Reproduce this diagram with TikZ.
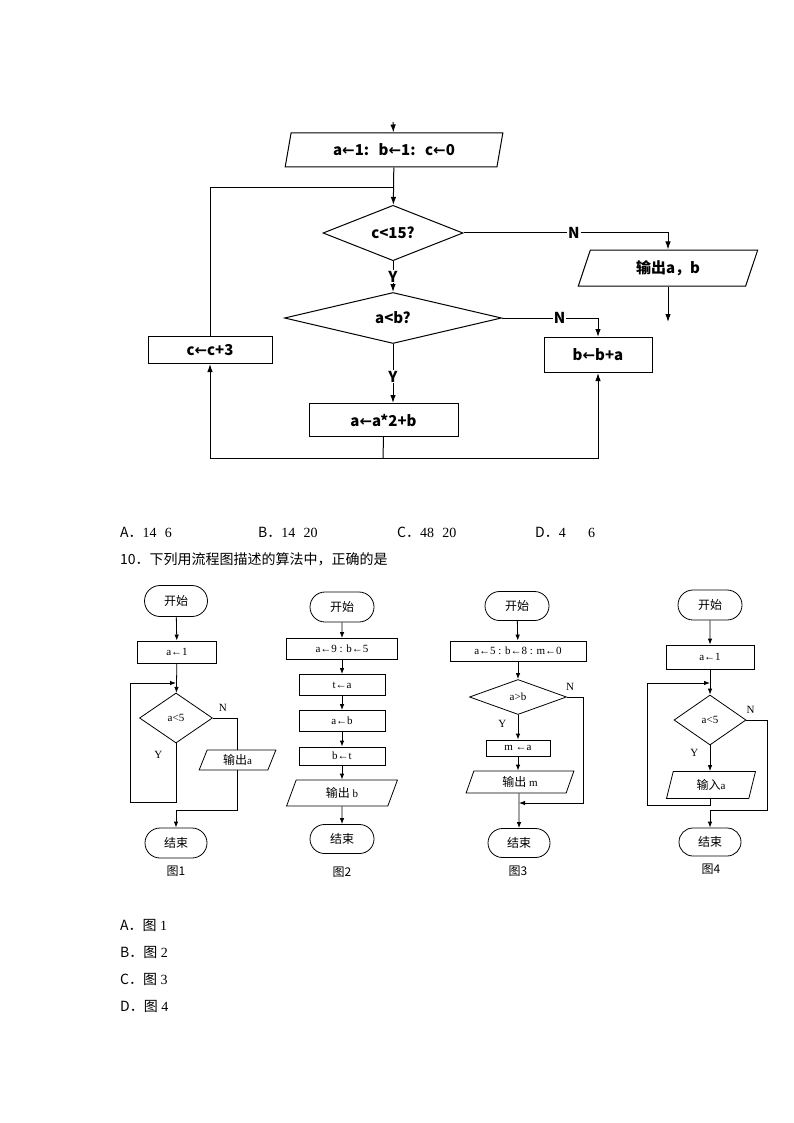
\documentclass[tikz,border=0pt]{standalone}
\usepackage{fontspec}
\setmainfont{Liberation Serif}
\newfontfamily\cjk{Noto Sans CJK SC}
\newfontfamily\symfont{DejaVu Sans}
\usepackage{tikz}
\usetikzlibrary{arrows.meta}
\usetikzlibrary{shapes.geometric,shapes.misc}
\usetikzlibrary{positioning}

\newcommand{\tla}{{\symfont\bfseries ←}}
\newcommand{\sla}{←}
\newcommand{\zh}{\cjk\fontsize{12}{14}\selectfont}

\tikzset{
  bigchart/.style={line width=1pt,>={Latex[length=8pt,width=5.5pt]},font=\cjk\bfseries\fontsize{15}{17}\selectfont},
  smallchart/.style={line width=0.8pt,>={Latex[length=6pt,width=4.5pt]},font=\fontsize{11}{13}\selectfont},
  proc/.style={draw,rectangle,inner sep=0pt},
  io/.style={draw,trapezium,trapezium stretches=true,inner sep=0pt},
  dec/.style={draw,diamond,inner sep=0pt},
  term/.style={draw,rounded rectangle,inner sep=0pt},
  lbl/.style={fill=white,inner sep=1pt},
}

\begin{document}
\begin{tikzpicture}[x=1pt,y=-1pt]
\useasboundingbox (0,0) rectangle (794,1123);

% first flow chart
\begin{scope}[bigchart]
  \coordinate (start) at (393,122);
  \node[io,trapezium left angle=74,trapezium right angle=106,minimum width=218pt,minimum height=34pt] (init) at (394,150) {a\tla1:\,\, b\tla1:\,\, c\tla0};
  \node[dec,minimum width=140pt,minimum height=46pt] (cmp) at (393,233) {c<15?};
  \node[dec,minimum width=217pt,minimum height=51pt] (ab) at (393,318) {a<b?};
  \node[io,trapezium left angle=72,trapezium right angle=108,minimum width=180pt,minimum height=36pt] (out) at (668,268) {输出a，b};
  \node[proc,minimum width=108pt,minimum height=35pt] (bb) at (598,355) {b\tla b+a};
  \node[proc,minimum width=124pt,minimum height=27pt] (cc) at (210,350) {c\tla c+3};
  \node[proc,minimum width=149pt,minimum height=33pt] (aa) at (383.5,420) {a\tla a*2+b};
  \coordinate (join) at (393,188);
  \coordinate (bot) at (383,458);
  \coordinate (outend) at (668,322);

  \draw[->] (start) -- (init);
  \draw[->] (init) -- (cmp);
  \draw (cc.north) |- (join);
  \draw[->] (cmp) -- node[lbl] {Y} (ab);
  \draw[->] (cmp.east) -| node[lbl,pos=0.27] {N} (out.north);
  \draw[->] (ab.east) -| node[lbl,pos=0.3] {N} (bb.north);
  \draw[->] (ab.south) -- node[lbl,pos=0.55] {Y} (ab.south |- aa.north);
  \draw (aa.south) -- (bot);
  \draw[->] (bot) -| (cc.south);
  \draw[->] (bot) -| (bb.south);
  \draw[->] (out) -- (outend);
\end{scope}

% answers
\node[anchor=west,inner sep=0pt,font=\fontsize{14}{16}\selectfont] (ansa) at (120,532) {{\cjk A．}14\,\, 6};
\node[anchor=west,inner sep=0pt,font=\fontsize{14}{16}\selectfont] (ansb) at (258,532) {{\cjk B．}14\,\, 20};
\node[anchor=west,inner sep=0pt,font=\fontsize{14}{16}\selectfont] (ansc) at (397,532) {{\cjk C．}48\,\, 20};
\node[anchor=west,inner sep=0pt,font=\fontsize{14}{16}\selectfont] (ansd) at (535,532) {{\cjk D．}4\quad\,\, 6};
\node[anchor=west,inner sep=0pt,font=\cjk\fontsize{14}{16}\selectfont] (q10) at (120,559) {10．下列用流程图描述的算法中，正确的是};

% fig 1
\begin{scope}[smallchart]
  \node[term,minimum width=63pt,minimum height=31pt] (s1) at (176,601) {\zh 开始};
  \node[proc,minimum width=79pt,minimum height=22pt] (a1) at (177,652) {a\sla1};
  \node[dec,minimum width=73pt,minimum height=50pt] (d1) at (176,718) {a<5};
  \node[io,trapezium left angle=71,trapezium right angle=109,minimum width=77pt,minimum height=20pt] (o1) at (237.5,760) {{\zh 输出}a};
  \node[term,minimum width=62pt,minimum height=30pt] (e1) at (176,843) {\zh 结束};
  \node[font=\zh] (f1) at (176,871) {图1};
  \coordinate (y1) at (176,802);
  \coordinate (k1) at (130,683);
  \coordinate (m1) at (176,683);
  \coordinate (m2) at (176,810);

  \draw[->] (s1) -- (a1);
  \draw[->] (a1) -- (d1);
  \draw[->] (d1.south) -- node[pos=0.2,left=10pt] {Y} (y1) -| (k1) -- (m1);
  \draw (d1.east) -| node[pos=0.2,above=3pt] {N} (o1.north);
  \draw[->] (o1.south) -- (o1.south |- m2) -- (m2) -- (e1.north);
\end{scope}

% fig 2
\begin{scope}[smallchart]
  \node[term,minimum width=64pt,minimum height=30pt] (s2) at (342,607) {\zh 开始};
  \node[proc,minimum width=111pt,minimum height=21pt] (p21) at (342,649) {a\sla9 : b\sla5};
  \node[proc,minimum width=86pt,minimum height=21pt] (p22) at (342,685) {t\sla a};
  \node[proc,minimum width=86pt,minimum height=21pt] (p23) at (342,721) {a\sla b};
  \node[proc,minimum width=86pt,minimum height=18pt] (p24) at (342,756) {b\sla t};
  \node[io,trapezium left angle=73,trapezium right angle=107,minimum width=111pt,minimum height=26pt] (o2) at (342,793) {{\zh 输出} b};
  \node[term,minimum width=64pt,minimum height=29pt] (e2) at (342,839) {\zh 结束};
  \node[font=\zh] (f2) at (342,872) {图2};

  \draw[->] (s2) -- (p21);
  \draw[->] (p21) -- (p22);
  \draw[->] (p22) -- (p23);
  \draw[->] (p23) -- (p24);
  \draw[->] (p24) -- (o2);
  \draw[->] (o2) -- (e2);
\end{scope}

% fig 3
\begin{scope}[smallchart]
  \node[term,minimum width=64pt,minimum height=29pt] (s3) at (517,606) {\zh 开始};
  \node[proc,minimum width=136pt,minimum height=20pt] (p31) at (518,651) {a\sla5 : b\sla8 : m\sla0};
  \node[dec,minimum width=97pt,minimum height=35pt] (d3) at (518,697) {a>b};
  \node[proc,minimum width=64pt,minimum height=16pt] (p32) at (518,748) {m \sla a};
  \node[io,trapezium left angle=75,trapezium right angle=105,minimum width=108pt,minimum height=22pt] (o3) at (520,782) {{\zh 输出} m};
  \node[term,minimum width=62pt,minimum height=29pt] (e3) at (519,843) {\zh 结束};
  \node[font=\zh] (f3) at (518,871) {图3};
  \coordinate (k3) at (583,803);
  \coordinate (m3) at (519,803);

  \draw[->] (s3) -- (p31);
  \draw[->] (p31) -- (d3);
  \draw[->] (d3) -- node[pos=0.35,left=8pt] {Y} (p32);
  \draw[->] (p32) -- (o3.north -| p32);
  \draw[->] (o3.south -| e3) -- (e3);
  \draw[->] (d3.east) -| node[pos=0.1,above=3pt] {N} (k3) -- (m3);
\end{scope}

% fig 4
\begin{scope}[smallchart]
  \node[term,minimum width=64pt,minimum height=30pt] (s4) at (710,605) {\zh 开始};
  \node[proc,minimum width=88pt,minimum height=24pt] (a4) at (710,657) {a\sla1};
  \node[dec,minimum width=72pt,minimum height=50pt] (d4) at (710,720) {a<5};
  \node[io,trapezium left angle=77,trapezium right angle=103,minimum width=89pt,minimum height=27pt] (o4) at (711,785) {{\zh 输入}a};
  \node[term,minimum width=62pt,minimum height=28pt] (e4) at (710,842) {\zh 结束};
  \node[font=\zh] (f4) at (711,869) {图4};
  \coordinate (y4) at (710,805);
  \coordinate (k4) at (647,683);
  \coordinate (m4) at (710,683);
  \coordinate (r4) at (767,810);
  \coordinate (n4) at (710,810);

  \draw[->] (s4) -- (a4);
  \draw[->] (a4) -- (d4);
  \draw[->] (d4) -- node[pos=0.3,left=8pt] {Y} (o4.north -| d4);
  \draw[->] (o4.south -| y4) -- (y4) -| (k4) -- (m4);
  \draw[->] (d4.east) -| node[pos=0.1,above=3pt] {N} (r4) -- (n4) -- (e4);
\end{scope}

% options
\node[anchor=west,inner sep=0pt,font=\fontsize{14}{16}\selectfont] (opa) at (120,925) {{\cjk A．图} 1};
\node[anchor=west,inner sep=0pt,font=\fontsize{14}{16}\selectfont] (opb) at (120,952) {{\cjk B．图} 2};
\node[anchor=west,inner sep=0pt,font=\fontsize{14}{16}\selectfont] (opc) at (120,979) {{\cjk C．图} 3};
\node[anchor=west,inner sep=0pt,font=\fontsize{14}{16}\selectfont] (opd) at (120,1006) {{\cjk D．图} 4};
\end{tikzpicture}
\end{document}
